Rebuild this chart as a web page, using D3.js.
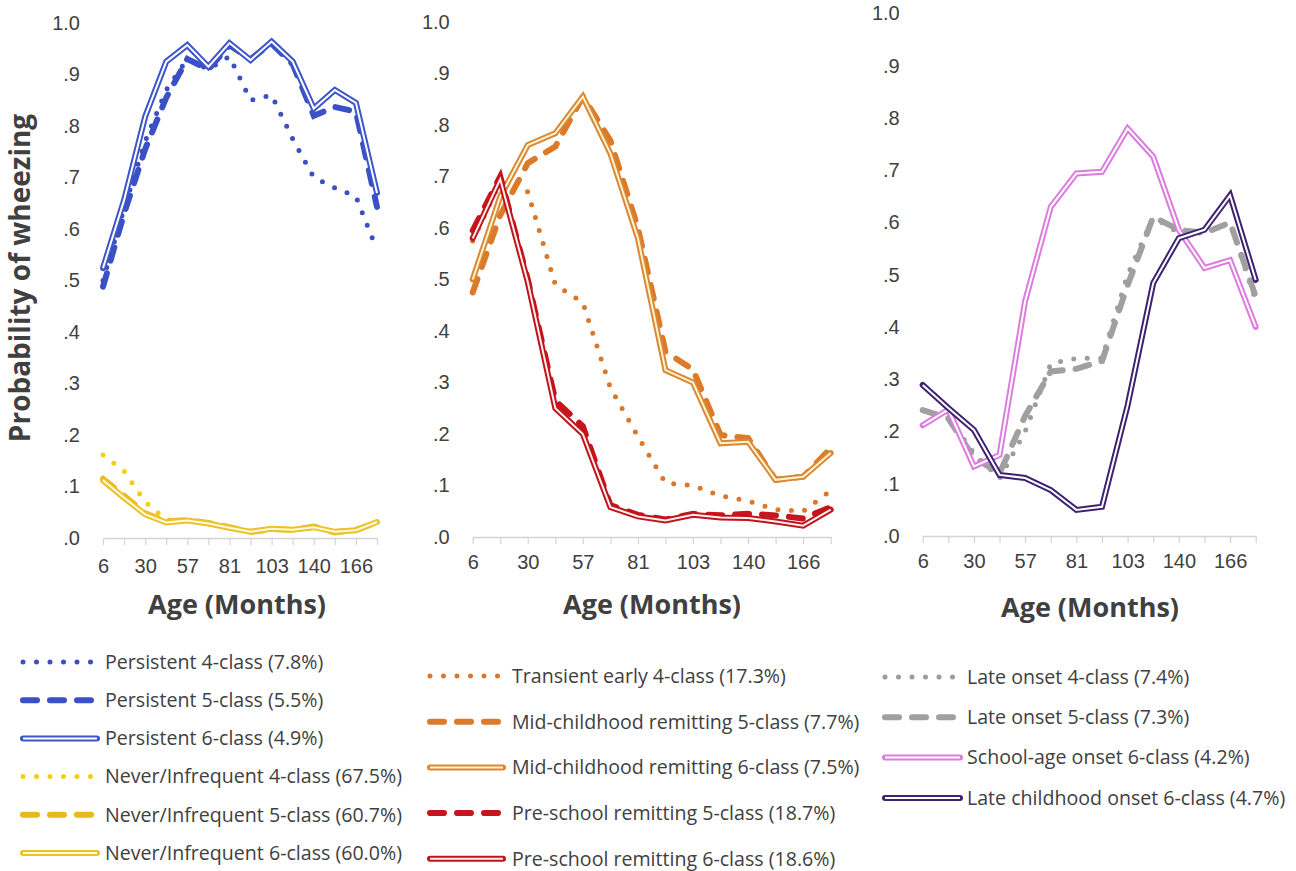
<!DOCTYPE html>
<html>
<head>
<meta charset="utf-8">
<script src="https://cdn.jsdelivr.net/npm/d3@7"></script>
<style>
  body { margin: 0; background: #fff; }
  svg { display: block; font-family: "Open Sans", sans-serif; }
</style>
</head>
<body>
<svg id="chart" width="1296" height="871"></svg>
<script>
// ages (months) at each survey wave
var ages = [6, 18, 30, 42, 57, 69, 81, 91, 103, 128, 140, 157, 166, 181];
var yTicks = [0, .1, .2, .3, .4, .5, .6, .7, .8, .9, 1];

// panel 1
var persistent4 = [0.50, 0.64, 0.77, 0.87, 0.93, 0.91, 0.935, 0.85, 0.86, 0.775, 0.70, 0.68, 0.663, 0.559];
var persistent5 = [0.488, 0.63, 0.755, 0.855, 0.93, 0.91, 0.957, 0.93, 0.96, 0.92, 0.82, 0.837, 0.828, 0.643];
var persistent6 = [0.524, 0.656, 0.818, 0.925, 0.957, 0.915, 0.961, 0.928, 0.964, 0.925, 0.834, 0.87, 0.845, 0.67];
var never4 = [0.161, 0.13, 0.07, 0.035, 0.033, 0.03, 0.021, 0.013, 0.017, 0.016, 0.023, 0.012, 0.016, 0.031];
var never5 = [0.115, 0.082, 0.048, 0.032, 0.035, 0.029, 0.021, 0.012, 0.017, 0.016, 0.022, 0.011, 0.016, 0.03];
var never6 = [0.112, 0.078, 0.046, 0.03, 0.034, 0.028, 0.02, 0.012, 0.018, 0.016, 0.021, 0.012, 0.015, 0.031];

// panel 2
var transient4 = [0.575, 0.69, 0.67, 0.49, 0.455, 0.29, 0.195, 0.105, 0.10, 0.08, 0.07, 0.053, 0.05, 0.09];
var midchild5 = [0.475, 0.625, 0.726, 0.758, 0.855, 0.77, 0.60, 0.36, 0.325, 0.198, 0.192, 0.111, 0.117, 0.172];
var midchild6 = [0.50, 0.661, 0.761, 0.784, 0.855, 0.745, 0.58, 0.324, 0.30, 0.182, 0.185, 0.111, 0.117, 0.163];
var preschool5 = [0.595, 0.70, 0.50, 0.265, 0.215, 0.062, 0.043, 0.034, 0.045, 0.042, 0.045, 0.042, 0.036, 0.058];
var preschool6 = [0.58, 0.695, 0.495, 0.25, 0.20, 0.058, 0.04, 0.032, 0.043, 0.038, 0.037, 0.03, 0.022, 0.053];

// panel 3
var late4 = [0.24, 0.228, 0.158, 0.11, 0.20, 0.33, 0.34, 0.34, 0.50, 0.61, 0.58, 0.58, 0.60, 0.45];
var late5 = [0.241, 0.225, 0.15, 0.12, 0.23, 0.315, 0.32, 0.335, 0.48, 0.611, 0.586, 0.58, 0.60, 0.458];
var schoolAge6 = [0.212, 0.242, 0.133, 0.155, 0.45, 0.63, 0.694, 0.697, 0.78, 0.726, 0.586, 0.513, 0.528, 0.40];
var lateChild6 = [0.289, 0.245, 0.203, 0.117, 0.111, 0.088, 0.05, 0.056, 0.25, 0.484, 0.57, 0.586, 0.652, 0.49];

var series = [
  {panel: 0, name: "Persistent 4-class (7.8%)", values: persistent4, type: "dot", color: "#3c4fc0"},
  {panel: 0, name: "Persistent 5-class (5.5%)", values: persistent5, type: "dash", color: "#3a50c6"},
  {panel: 0, name: "Persistent 6-class (4.9%)", values: persistent6, type: "double", color: "#3d55c8", inner: "#fff"},
  {panel: 0, name: "Never/Infrequent 4-class (67.5%)", values: never4, type: "dot", color: "#f2cf10"},
  {panel: 0, name: "Never/Infrequent 5-class (60.7%)", values: never5, type: "dash", color: "#e8b91e"},
  {panel: 0, name: "Never/Infrequent 6-class (60.0%)", values: never6, type: "double", color: "#ecc22a", inner: "#fffbe0"},
  {panel: 1, name: "Transient early 4-class (17.3%)", values: transient4, type: "dot", color: "#d9782c"},
  {panel: 1, name: "Mid-childhood remitting 5-class (7.7%)", values: midchild5, type: "dash", color: "#dc7a28"},
  {panel: 1, name: "Mid-childhood remitting 6-class (7.5%)", values: midchild6, type: "double", color: "#d98838", inner: "#fff4cc"},
  {panel: 1, name: "Pre-school remitting 5-class (18.7%)", values: preschool5, type: "dash", color: "#c8141c"},
  {panel: 1, name: "Pre-school remitting 6-class (18.6%)", values: preschool6, type: "double", color: "#c0141c", inner: "#fff0f0"},
  {panel: 2, name: "Late onset 4-class (7.4%)", values: late4, type: "dot", color: "#9c9c9c"},
  {panel: 2, name: "Late onset 5-class (7.3%)", values: late5, type: "dash", color: "#a0a0a0"},
  {panel: 2, name: "School-age onset 6-class (4.2%)", values: schoolAge6, type: "double", color: "#dc7cde", inner: "#fff"},
  {panel: 2, name: "Late childhood onset 6-class (4.7%)", values: lateChild6, type: "double", color: "#3e2270", inner: "#fff"}
];

// panel geometry
var panels = [
  {x0: 103, x1: 377, y0: 538, y1: 23, labelPad: 21, titleX: 237, titleY: 614,
   legend: {x0: 23, x1: 97, tx: 105, y: 662, step: 38.2}},
  {x0: 472.7, x1: 830.7, y0: 537, y1: 22, labelPad: 18, titleX: 652, titleY: 614,
   legend: {x0: 430, x1: 503, tx: 512, y: 676, step: 45.7}},
  {x0: 922.7, x1: 1255.7, y0: 536, y1: 13.5, labelPad: 18, titleX: 1090, titleY: 617,
   legend: {x0: 885, x1: 960, tx: 967, y: 677, step: 40.3}}
];

var textColor = "#404040";
var svg = d3.select("#chart");

function strokeLine(sel, s) {
  if (s.type === "dot") {
    sel.append("path").attr("fill", "none").attr("stroke", s.color)
      .attr("stroke-width", 5).attr("stroke-linecap", "round")
      .attr("stroke-dasharray", "0 13.5");
  } else if (s.type === "dash") {
    sel.append("path").attr("fill", "none").attr("stroke", s.color)
      .attr("stroke-width", 6).attr("stroke-linecap", "round")
      .attr("stroke-dasharray", "14 13");
  } else {
    sel.append("path").attr("fill", "none").attr("stroke", s.color)
      .attr("stroke-width", 6).attr("stroke-linecap", "round");
    sel.append("path").attr("fill", "none").attr("stroke", s.inner)
      .attr("stroke-width", 2);
  }
}

panels.forEach(function(p, pi) {
  var x = d3.scalePoint().domain(ages).range([p.x0, p.x1]).padding(0);
  var y = d3.scaleLinear().domain([0, 1]).range([p.y0, p.y1]);
  var g = svg.append("g");

  // x axis
  var xAxis = g.append("g").attr("transform", "translate(0," + p.y0 + ")")
    .call(d3.axisBottom(x).tickValues(ages).tickSizeInner(7).tickSizeOuter(0)
      .tickPadding(p.labelPad - 7)
      .tickFormat(function(d, i) { return i % 2 === 0 ? d : ""; }));
  xAxis.select(".domain").attr("stroke", "#d4d4d4").attr("stroke-width", 1.5);
  xAxis.selectAll(".tick line").attr("stroke", "#d4d4d4").attr("stroke-width", 1.2);
  xAxis.selectAll("text").attr("fill", textColor).style("font-size", "20px");

  // y axis labels only
  var yAxis = g.append("g").attr("transform", "translate(" + p.x0 + ",0)")
    .call(d3.axisLeft(y).tickValues(yTicks).tickSize(0).tickPadding(23)
      .tickFormat(function(d) { return d === 1 ? "1.0" : "." + Math.round(d * 10); }));
  yAxis.select(".domain").remove();
  yAxis.selectAll("text").attr("fill", textColor).style("font-size", "20px");

  g.append("text").attr("x", p.titleX).attr("y", p.titleY)
    .attr("text-anchor", "middle").attr("fill", textColor)
    .style("font-size", "27px").style("font-weight", "bold")
    .text("Age (Months)");

  var line = d3.line().x(function(d, i) { return x(ages[i]); }).y(function(d) { return y(d); });

  series.filter(function(s) { return s.panel === pi; }).forEach(function(s, k) {
    var sg = g.append("g");
    strokeLine(sg, s);
    sg.selectAll("path").attr("d", line(s.values));

    // legend entry
    var ly = p.legend.y + k * p.legend.step;
    var lg = svg.append("g");
    strokeLine(lg, s);
    lg.selectAll("path").attr("d", "M" + p.legend.x0 + "," + ly + "H" + p.legend.x1);
    lg.append("text").attr("x", p.legend.tx).attr("y", ly).attr("dy", "0.35em")
      .attr("fill", textColor).style("font-size", "19.6px").text(s.name);
  });
});

svg.append("text").attr("transform", "translate(30,278) rotate(-90)")
  .attr("text-anchor", "middle").attr("fill", textColor)
  .style("font-size", "28px").style("font-weight", "bold")
  .text("Probability of wheezing");
</script>
</body>
</html>
